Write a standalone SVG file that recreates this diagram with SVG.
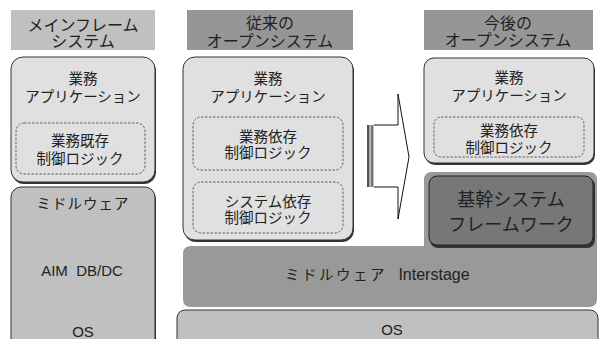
<svg xmlns="http://www.w3.org/2000/svg" width="600" height="339" viewBox="0 0 600 339">
<defs>
<style>
text{font-family:"Noto Sans CJK JP","Noto Sans",sans-serif;fill:#222;text-anchor:middle}
.h{font-size:16px}
.t{font-size:14.5px}
.b{font-size:18px}
.e{font-family:"Liberation Sans",Arial,sans-serif;font-size:15px}
.light{fill:#e0e0e0;stroke:#333;stroke-width:1}
.mid{fill:#c0c0c0;stroke:#333;stroke-width:1}
.dash{fill:#e0e0e0;stroke:#444;stroke-width:0.8;stroke-dasharray:2.5 1.5}
.sh{fill:#333}
</style>
</defs>
<rect width="600" height="339" fill="#fff"/>

<g id="header-mainframe">
<rect x="11" y="10" width="144" height="40" fill="#c0c0c0"/>
<text class="h" x="83" y="31">メインフレーム</text>
<text class="h" x="83" y="47">システム</text>
</g>
<g id="header-conventional">
<rect x="187" y="10" width="166" height="40" fill="#969696"/>
<text class="h" x="270" y="29">従来の</text>
<text class="h" x="270" y="47">オープンシステム</text>
</g>
<g id="header-future">
<rect x="424" y="10" width="169" height="40" fill="#969696"/>
<text class="h" x="508" y="29">今後の</text>
<text class="h" x="508" y="46">オープンシステム</text>
</g>

<g id="mainframe-app">
<rect class="sh" x="12" y="59" width="144" height="125" rx="12"/>
<rect class="light" x="11" y="57" width="144" height="125" rx="12"/>
<text class="t" x="83" y="84">業務</text>
<text class="t" x="83" y="102">アプリケーション</text>
<rect class="dash" x="16" y="123" width="129" height="51" rx="8"/>
<text class="t" x="80" y="146">業務既存</text>
<text class="t" x="80" y="164">制御ロジック</text>
</g>

<g id="mainframe-middleware">
<rect class="sh" x="12" y="189" width="144" height="170" rx="10"/>
<rect class="mid" x="11" y="187" width="144" height="170" rx="10"/>
<text class="t" x="83" y="209" letter-spacing="1">ミドルウェア</text>
<text class="e" x="82" y="276" xml:space="preserve">AIM  DB/DC</text>
<text class="e" x="83" y="337">OS</text>
</g>

<g id="conventional-app">
<rect class="sh" x="184" y="59" width="170" height="183" rx="12"/>
<rect class="light" x="183" y="57" width="170" height="183" rx="12"/>
<text class="t" x="268" y="84">業務</text>
<text class="t" x="268" y="102">アプリケーション</text>
<rect class="dash" x="193" y="117" width="150" height="53" rx="8"/>
<text class="t" x="268" y="142">業務依存</text>
<text class="t" x="268" y="158">制御ロジック</text>
<rect class="dash" x="193" y="182" width="150" height="51" rx="8"/>
<text class="t" x="268" y="207">システム依存</text>
<text class="t" x="268" y="223">制御ロジック</text>
</g>

<g id="future-app">
<rect class="sh" x="425" y="60" width="170" height="105" rx="10"/>
<rect class="light" x="424" y="58" width="170" height="105" rx="10"/>
<text class="t" x="509" y="83">業務</text>
<text class="t" x="509" y="101">アプリケーション</text>
<rect class="dash" x="434" y="117" width="150" height="40" rx="7"/>
<text class="t" x="509" y="136">業務依存</text>
<text class="t" x="509" y="153">制御ロジック</text>
</g>

<g id="middleware-interstage">
<path d="M191,246 H424 V180 Q424,172 432,172 H589 Q597,172 597,180 V299 Q597,307 589,307 H191 Q183,307 183,299 V254 Q183,246 191,246 Z" fill="#999"/>
<text class="t" x="336" y="280" letter-spacing="2.5">ミドルウェア</text>
<text class="e" x="434" y="280" style="font-size:16px">Interstage</text>
</g>

<g id="framework">
<rect class="sh" x="430" y="178" width="165" height="70" rx="8"/>
<rect x="429" y="176" width="164" height="69" rx="8" fill="#777" stroke="#222" stroke-width="1"/>
<text class="b" x="511" y="206">基幹システム</text>
<text class="b" x="511" y="231">フレームワーク</text>
</g>

<g id="os">
<rect class="mid" x="177" y="310" width="421" height="50" rx="8"/>
<text class="e" x="392" y="335">OS</text>
</g>

<g id="connectors">
<rect x="367" y="125" width="2.5" height="62" fill="#555"/>
<rect x="370.5" y="125" width="3" height="62" fill="#777"/>
<path d="M374,125 H398 V94 L409,157 L398,219 V187 H374" fill="#fff" stroke="#111" stroke-width="1"/>
</g>
</svg>
